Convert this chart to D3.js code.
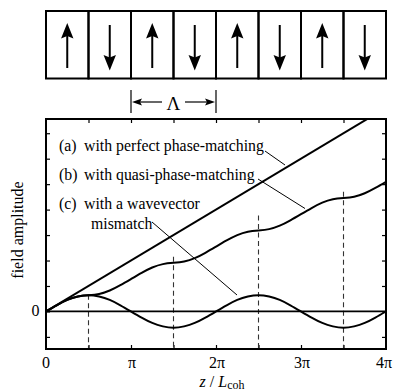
<!DOCTYPE html>
<html>
<head>
<meta charset="utf-8">
<script src="https://cdn.jsdelivr.net/npm/d3@7"></script>
<style>
  body { margin: 0; background: #fff; }
  svg { display: block; font-family: "Liberation Serif", "Times New Roman", serif; }
  text { fill: #000; }
</style>
</head>
<body>
<div id="chart"></div>
<script>
// domain orientation of the poled crystal (top sketch)
var domains = ["up", "down", "up", "down", "up", "down", "up", "down"];

// sample positions along z, in units of pi
var zPi = [0, 0.125, 0.25, 0.375, 0.5, 0.625, 0.75, 0.875,
           1, 1.125, 1.25, 1.375, 1.5, 1.625, 1.75, 1.875,
           2, 2.125, 2.25, 2.375, 2.5, 2.625, 2.75, 2.875,
           3, 3.125, 3.25, 3.375, 3.5, 3.625, 3.75, 3.875, 4];

// (b) quasi-phase-matched field amplitude
var qpm = [0, 0.38, 0.71, 0.92, 1, 1.08, 1.29, 1.62,
           2, 2.38, 2.71, 2.92, 3, 3.08, 3.29, 3.62,
           4, 4.38, 4.71, 4.92, 5, 5.08, 5.29, 5.62,
           6, 6.38, 6.71, 6.92, 7, 7.08, 7.29, 7.62, 8];

// (c) field amplitude with a wavevector mismatch
var mismatch = [0, 0.38, 0.71, 0.92, 1, 0.92, 0.71, 0.38,
                0, -0.38, -0.71, -0.92, -1, -0.92, -0.71, -0.38,
                0, 0.38, 0.71, 0.92, 1, 0.92, 0.71, 0.38,
                0, -0.38, -0.71, -0.92, -1, -0.92, -0.71, -0.38, 0];

// (a) perfect phase matching: straight line (end points)
var perfectZ = [0, 4];
var perfect = [0, 4 * Math.PI];

// dashed markers at the domain reversals
var dashZ = [0.5, 1.5, 2.5, 3.5];
var dashTop = [1.03, 3.37, 5.92, 7.39];

var xTickLabels = ["0", "\u03c0", "2\u03c0", "3\u03c0", "4\u03c0"];
var xTickValues = [0, 1, 2, 3, 4];

var width = 393, height = 390;
var margin = {top: 119, right: 7, bottom: 41, left: 46};

var svg = d3.select("#chart").append("svg")
  .attr("width", width)
  .attr("height", height);

// scales: x in units of pi, y in units of the mismatch peak amplitude
var x = d3.scaleLinear()
  .domain([0, 4])
  .range([margin.left, width - margin.right]);

var y = d3.scaleLinear()
  .domain([-2.317, 11.873])
  .range([height - margin.bottom, margin.top]);

var x0 = x.range()[0], x1 = x.range()[1];
var y0 = y.range()[1], y1 = y.range()[0];

// ---- top sketch: periodically poled domains ----
var boxTop = 11, boxBottom = 78.5;
var band = d3.scaleBand()
  .domain(d3.range(domains.length))
  .range([x0, x1]);

var sketch = svg.append("g");

sketch.selectAll("rect.domain")
  .data(domains)
  .enter().append("rect")
  .attr("class", "domain")
  .attr("x", function(d, i) { return band(i); })
  .attr("y", boxTop)
  .attr("width", band.bandwidth())
  .attr("height", boxBottom - boxTop)
  .style("fill", "none")
  .style("stroke", "#000")
  .style("stroke-width", 2);

var arrows = sketch.selectAll("g.arrow")
  .data(domains)
  .enter().append("g")
  .attr("class", "arrow")
  .attr("transform", function(d, i) { return "translate(" + (band(i) + band.bandwidth() / 2) + ",0)"; });

arrows.append("line")
  .attr("x1", 0).attr("x2", 0)
  .attr("y1", function(d) { return d === "up" ? 68 : 25; })
  .attr("y2", function(d) { return d === "up" ? 34 : 59; })
  .style("stroke", "#000")
  .style("stroke-width", 2);

arrows.append("path")
  .attr("d", function(d) {
    return d === "up"
      ? "M0,23 L6.2,38.5 L0,36 L-6.2,38.5 Z"
      : "M0,70.5 L6.2,55 L0,57.5 L-6.2,55 Z";
  })
  .style("fill", "#000");

// period marker
var lamY = 102;
var lamL = band(2), lamR = band(4);
var lam = svg.append("g");
[lamL, lamR].forEach(function(px) {
  lam.append("line")
    .attr("x1", px).attr("x2", px)
    .attr("y1", 90).attr("y2", 113)
    .style("stroke", "#000").style("stroke-width", 1.2);
});
lam.append("line")
  .attr("x1", lamL + 4).attr("x2", lamL + 31)
  .attr("y1", lamY).attr("y2", lamY)
  .style("stroke", "#000").style("stroke-width", 1.2);
lam.append("line")
  .attr("x1", lamR - 31).attr("x2", lamR - 4)
  .attr("y1", lamY).attr("y2", lamY)
  .style("stroke", "#000").style("stroke-width", 1.2);
lam.append("path")
  .attr("d", "M" + (lamL + 1) + "," + lamY + " l10,-3.5 l-2,3.5 l2,3.5 Z")
  .style("fill", "#000");
lam.append("path")
  .attr("d", "M" + (lamR - 1) + "," + lamY + " l-10,-3.5 l2,3.5 l-2,3.5 Z")
  .style("fill", "#000");
lam.append("text")
  .attr("x", (lamL + lamR) / 2)
  .attr("y", 110)
  .attr("text-anchor", "middle")
  .style("font-size", "19px")
  .text("\u039b");

// ---- plot ----
svg.append("defs").append("clipPath")
  .attr("id", "plot-clip")
  .append("rect")
  .attr("x", x0).attr("y", y0)
  .attr("width", x1 - x0).attr("height", y1 - y0);

var plot = svg.append("g");

// inward ticks on all four sides
var yTicks = [-1, 0, 1, 2, 3, 4, 5, 6, 7].map(function(k) { return k * Math.PI / 2; });
var xTicks = [0.5, 1, 1.5, 2, 2.5, 3, 3.5];

plot.append("g")
  .attr("transform", "translate(" + x0 + ",0)")
  .call(d3.axisLeft(y).tickValues(yTicks).tickSize(-4).tickFormat(""))
  .call(function(g) { g.select(".domain").remove(); });
plot.append("g")
  .attr("transform", "translate(" + x1 + ",0)")
  .call(d3.axisRight(y).tickValues(yTicks).tickSize(-4).tickFormat(""))
  .call(function(g) { g.select(".domain").remove(); });
plot.append("g")
  .attr("transform", "translate(0," + y1 + ")")
  .call(d3.axisBottom(x).tickValues(xTicks).tickSize(-4).tickFormat(""))
  .call(function(g) { g.select(".domain").remove(); });
plot.append("g")
  .attr("transform", "translate(0," + y0 + ")")
  .call(d3.axisTop(x).tickValues(xTicks).tickSize(-4).tickFormat(""))
  .call(function(g) { g.select(".domain").remove(); });
plot.selectAll(".tick line").style("stroke", "#000").style("stroke-width", 1.2);

// dashed markers
plot.selectAll("line.dash")
  .data(dashZ)
  .enter().append("line")
  .attr("class", "dash")
  .attr("x1", function(d) { return x(d); })
  .attr("x2", function(d) { return x(d); })
  .attr("y1", function(d, i) { return y(dashTop[i]); })
  .attr("y2", y1)
  .style("stroke", "#333")
  .style("stroke-width", 1.1)
  .style("stroke-dasharray", "5,3.5");

// zero line
plot.append("line")
  .attr("x1", x0).attr("x2", x1)
  .attr("y1", y(0)).attr("y2", y(0))
  .style("stroke", "#000")
  .style("stroke-width", 1.8);

var line = d3.line()
  .x(function(d) { return x(d[0]); })
  .y(function(d) { return y(d[1]); })
  .curve(d3.curveNatural);

var curves = plot.append("g").attr("clip-path", "url(#plot-clip)");

curves.append("path")
  .datum(d3.zip(perfectZ, perfect))
  .attr("d", d3.line().x(function(d) { return x(d[0]); }).y(function(d) { return y(d[1]); }))
  .style("fill", "none").style("stroke", "#000").style("stroke-width", 2);

curves.append("path")
  .datum(d3.zip(zPi, qpm))
  .attr("d", line)
  .style("fill", "none").style("stroke", "#000").style("stroke-width", 2);

curves.append("path")
  .datum(d3.zip(zPi, mismatch))
  .attr("d", line)
  .style("fill", "none").style("stroke", "#000").style("stroke-width", 2);

// frame
plot.append("rect")
  .attr("x", x0).attr("y", y0)
  .attr("width", x1 - x0).attr("height", y1 - y0)
  .style("fill", "none")
  .style("stroke", "#000")
  .style("stroke-width", 2);

// tick labels (last one kept inside the page edge)
plot.selectAll("text.xlab")
  .data(xTickValues)
  .enter().append("text")
  .attr("class", "xlab")
  .attr("x", function(d) { return d === 4 ? width - 1 : x(d) + (d === 0 ? 0 : 1); })
  .attr("y", 367.5)
  .attr("text-anchor", function(d) { return d === 4 ? "end" : "middle"; })
  .style("font-size", "16px")
  .text(function(d, i) { return xTickLabels[i]; });

plot.append("text")
  .attr("x", 39.5)
  .attr("y", y(0) + 5)
  .attr("text-anchor", "end")
  .style("font-size", "16px")
  .text("0");

// axis titles
svg.append("text")
  .attr("transform", "translate(23," + ((y0 + y1) / 2 - 4) + ") rotate(-90)")
  .attr("text-anchor", "middle")
  .style("font-size", "16px")
  .text("field amplitude");

var xt = svg.append("text")
  .attr("x", 222)
  .attr("y", 386.5)
  .attr("text-anchor", "middle")
  .style("font-size", "16px");
xt.append("tspan").style("font-style", "italic").text("z");
xt.append("tspan").text(" / ");
xt.append("tspan").style("font-style", "italic").text("L");
xt.append("tspan").attr("dy", 2).style("font-size", "12px").text("coh");

// annotations
var notes = [
  {tag: "(a)", label: "with perfect phase-matching", base: 150.5},
  {tag: "(b)", label: "with quasi-phase-matching", base: 179.5},
  {tag: "(c)", label: "with a wavevector", base: 208.5}
];
var ann = svg.append("g").style("font-size", "15.8px");
ann.selectAll("text.tag")
  .data(notes)
  .enter().append("text")
  .attr("class", "tag")
  .attr("x", 59)
  .attr("y", function(d) { return d.base; })
  .text(function(d) { return d.tag; });
ann.selectAll("text.lab")
  .data(notes)
  .enter().append("text")
  .attr("class", "lab")
  .attr("x", 84)
  .attr("y", function(d) { return d.base; })
  .text(function(d) { return d.label; });
ann.append("text")
  .attr("x", 91)
  .attr("y", 228.5)
  .text("mismatch");

// leader lines
var leaders = [
  [[265, 151], [285, 165]],
  [[258, 179], [305, 208.5]],
  [[152, 222], [237, 295]]
];
svg.selectAll("line.leader")
  .data(leaders)
  .enter().append("line")
  .attr("class", "leader")
  .attr("x1", function(d) { return d[0][0]; })
  .attr("y1", function(d) { return d[0][1]; })
  .attr("x2", function(d) { return d[1][0]; })
  .attr("y2", function(d) { return d[1][1]; })
  .style("stroke", "#000")
  .style("stroke-width", 1);
</script>
</body>
</html>
